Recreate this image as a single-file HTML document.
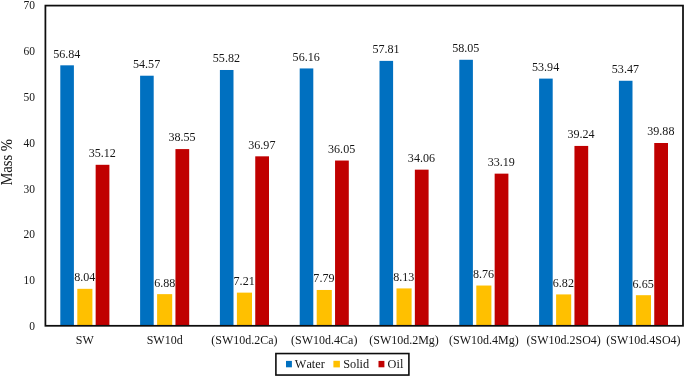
<!DOCTYPE html>
<html><head><meta charset="utf-8"><title>Mass % chart</title>
<style>
html,body{margin:0;padding:0;background:#fff;}
body{width:685px;height:377px;overflow:hidden;}
svg{display:block;will-change:transform;}
svg text{font-family:"Liberation Serif",serif;fill:#151515;font-kerning:none;}
g.t{filter:grayscale(1);}
</style></head><body>
<svg width="685" height="377" viewBox="0 0 685 377">
<rect x="0" y="0" width="685" height="377" fill="#ffffff"/>
<g>
<rect x="60.30" y="65.32" width="13.60" height="260.48" fill="#0070C0"/>
<rect x="77.30" y="288.83" width="15.10" height="36.97" fill="#FFC000"/>
<rect x="95.65" y="164.80" width="13.75" height="161.00" fill="#C00000"/>
<rect x="140.10" y="75.72" width="13.60" height="250.08" fill="#0070C0"/>
<rect x="157.10" y="294.14" width="15.10" height="31.66" fill="#FFC000"/>
<rect x="175.45" y="149.09" width="13.75" height="176.71" fill="#C00000"/>
<rect x="219.90" y="69.99" width="13.60" height="255.81" fill="#0070C0"/>
<rect x="236.90" y="292.63" width="15.10" height="33.17" fill="#FFC000"/>
<rect x="255.25" y="156.33" width="13.75" height="169.47" fill="#C00000"/>
<rect x="299.70" y="68.44" width="13.60" height="257.36" fill="#0070C0"/>
<rect x="316.70" y="289.97" width="15.10" height="35.83" fill="#FFC000"/>
<rect x="335.05" y="160.54" width="13.75" height="165.26" fill="#C00000"/>
<rect x="379.50" y="60.88" width="13.60" height="264.92" fill="#0070C0"/>
<rect x="396.50" y="288.41" width="15.10" height="37.39" fill="#FFC000"/>
<rect x="414.85" y="169.66" width="13.75" height="156.14" fill="#C00000"/>
<rect x="459.30" y="59.78" width="13.60" height="266.02" fill="#0070C0"/>
<rect x="476.30" y="285.53" width="15.10" height="40.27" fill="#FFC000"/>
<rect x="494.65" y="173.64" width="13.75" height="152.16" fill="#C00000"/>
<rect x="539.10" y="78.60" width="13.60" height="247.20" fill="#0070C0"/>
<rect x="556.10" y="294.41" width="15.10" height="31.39" fill="#FFC000"/>
<rect x="574.45" y="145.93" width="13.75" height="179.87" fill="#C00000"/>
<rect x="618.90" y="80.76" width="13.60" height="245.04" fill="#0070C0"/>
<rect x="635.90" y="295.19" width="15.10" height="30.61" fill="#FFC000"/>
<rect x="654.25" y="143.00" width="13.75" height="182.80" fill="#C00000"/>
</g>
<rect x="45.40" y="5.60" width="637.60" height="320.20" fill="none" stroke="#0d0d0d" stroke-width="1.75"/>
<rect x="275.9" y="353.55" width="133.0" height="21.5" fill="#fff" stroke="#0d0d0d" stroke-width="1.6"/>
<rect x="286.0" y="360.9" width="5.9" height="6.4" fill="#0070C0"/>
<rect x="333.4" y="360.8" width="6.5" height="6.6" fill="#FFC000"/>
<rect x="378.5" y="360.9" width="5.9" height="6.4" fill="#C00000"/>
<g class="t">
<text transform="translate(66.80 57.52) scale(1 1.09)" font-size="12.1" text-anchor="middle">56.84</text>
<text transform="translate(84.75 281.43) scale(1 1.09)" font-size="12.1" text-anchor="middle">8.04</text>
<text transform="translate(102.23 157.00) scale(1 1.09)" font-size="12.1" text-anchor="middle">35.12</text>
<text transform="translate(146.60 67.92) scale(1 1.09)" font-size="12.1" text-anchor="middle">54.57</text>
<text transform="translate(164.75 287.04) scale(1 1.09)" font-size="12.1" text-anchor="middle">6.88</text>
<text transform="translate(182.02 141.29) scale(1 1.09)" font-size="12.1" text-anchor="middle">38.55</text>
<text transform="translate(226.40 62.19) scale(1 1.09)" font-size="12.1" text-anchor="middle">55.82</text>
<text transform="translate(244.15 284.83) scale(1 1.09)" font-size="12.1" text-anchor="middle">7.21</text>
<text transform="translate(261.82 148.53) scale(1 1.09)" font-size="12.1" text-anchor="middle">36.97</text>
<text transform="translate(306.20 60.64) scale(1 1.09)" font-size="12.1" text-anchor="middle">56.16</text>
<text transform="translate(323.95 282.17) scale(1 1.09)" font-size="12.1" text-anchor="middle">7.79</text>
<text transform="translate(341.62 152.74) scale(1 1.09)" font-size="12.1" text-anchor="middle">36.05</text>
<text transform="translate(386.00 53.08) scale(1 1.09)" font-size="12.1" text-anchor="middle">57.81</text>
<text transform="translate(403.75 280.61) scale(1 1.09)" font-size="12.1" text-anchor="middle">8.13</text>
<text transform="translate(421.43 161.86) scale(1 1.09)" font-size="12.1" text-anchor="middle">34.06</text>
<text transform="translate(465.80 51.98) scale(1 1.09)" font-size="12.1" text-anchor="middle">58.05</text>
<text transform="translate(483.55 277.73) scale(1 1.09)" font-size="12.1" text-anchor="middle">8.76</text>
<text transform="translate(501.23 165.84) scale(1 1.09)" font-size="12.1" text-anchor="middle">33.19</text>
<text transform="translate(545.60 70.80) scale(1 1.09)" font-size="12.1" text-anchor="middle">53.94</text>
<text transform="translate(563.35 287.01) scale(1 1.09)" font-size="12.1" text-anchor="middle">6.82</text>
<text transform="translate(581.02 138.13) scale(1 1.09)" font-size="12.1" text-anchor="middle">39.24</text>
<text transform="translate(625.40 72.96) scale(1 1.09)" font-size="12.1" text-anchor="middle">53.47</text>
<text transform="translate(643.15 287.79) scale(1 1.09)" font-size="12.1" text-anchor="middle">6.65</text>
<text transform="translate(660.83 135.20) scale(1 1.09)" font-size="12.1" text-anchor="middle">39.88</text>
<text transform="translate(35.00 330.25) scale(1 1.13)" font-size="11.5" text-anchor="end">0</text>
<text transform="translate(35.00 284.15) scale(1 1.13)" font-size="11.5" text-anchor="end">10</text>
<text transform="translate(35.00 238.35) scale(1 1.13)" font-size="11.5" text-anchor="end">20</text>
<text transform="translate(35.00 192.55) scale(1 1.13)" font-size="11.5" text-anchor="end">30</text>
<text transform="translate(35.00 146.75) scale(1 1.13)" font-size="11.5" text-anchor="end">40</text>
<text transform="translate(35.00 100.95) scale(1 1.13)" font-size="11.5" text-anchor="end">50</text>
<text transform="translate(35.00 55.15) scale(1 1.13)" font-size="11.5" text-anchor="end">60</text>
<text transform="translate(35.00 9.35) scale(1 1.13)" font-size="11.5" text-anchor="end">70</text>
<text transform="translate(84.85 343.90) scale(1 1.09)" font-size="12.0" text-anchor="middle">SW</text>
<text transform="translate(164.65 343.90) scale(1 1.09)" font-size="12.0" text-anchor="middle">SW10d</text>
<text transform="translate(244.45 343.90) scale(1 1.09)" font-size="12.0" text-anchor="middle">(SW10d.2Ca)</text>
<text transform="translate(324.25 343.90) scale(1 1.09)" font-size="12.0" text-anchor="middle">(SW10d.4Ca)</text>
<text transform="translate(404.05 343.90) scale(1 1.09)" font-size="12.0" text-anchor="middle">(SW10d.2Mg)</text>
<text transform="translate(483.85 343.90) scale(1 1.09)" font-size="12.0" text-anchor="middle">(SW10d.4Mg)</text>
<text transform="translate(563.65 343.90) scale(1 1.09)" font-size="12.0" text-anchor="middle">(SW10d.2SO4)</text>
<text transform="translate(643.45 343.90) scale(1 1.09)" font-size="12.0" text-anchor="middle">(SW10d.4SO4)</text>
<text transform="translate(11.60 162.30) rotate(-90) scale(1 1.12)" font-size="14.6" text-anchor="middle">Mass %</text>
<text transform="translate(294.80 367.75) scale(1 1.095)" font-size="12.3">Water</text>
<text transform="translate(343.20 367.75) scale(1 1.095)" font-size="12.3">Solid</text>
<text transform="translate(387.60 367.75) scale(1 1.095)" font-size="12.3">Oil</text>
</g>
</svg>
</body></html>
